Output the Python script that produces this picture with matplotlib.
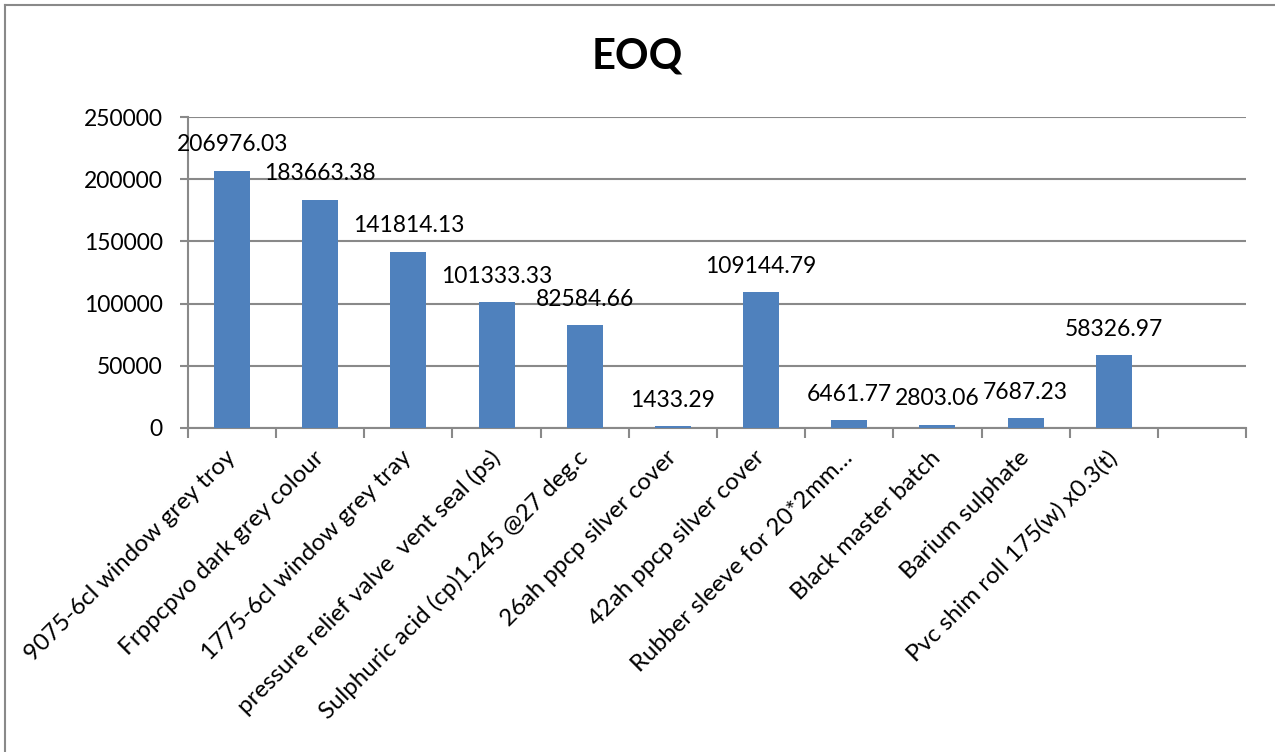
import matplotlib
matplotlib.use('Agg')
import matplotlib.pyplot as plt
from matplotlib.lines import Line2D

plt.rcParams['font.family'] = ['Lato', 'DejaVu Sans']

items = ['9075-6cl window grey troy', 'Frppcpvo dark grey colour',
         '1775-6cl window grey tray', 'pressure relief valve  vent seal (ps)',
         'Sulphuric acid (cp)1.245 @27 deg.c', '26ah ppcp silver cover',
         '42ah ppcp silver cover', 'Rubber sleeve for 20*2mm\u2026',
         'Black master batch', 'Barium sulphate', 'Pvc shim roll 175(w) x0.3(t)']
eoq = [206976.03, 183663.38, 141814.13, 101333.33, 82584.66, 1433.29,
       109144.79, 6461.77, 2803.06, 7687.23, 58326.97]
yticks = [0, 50000, 100000, 150000, 200000, 250000]

grey = '#898989'
fig = plt.figure(figsize=(12.75, 7.52), dpi=100)
ax = fig.add_axes([188 / 1275, 1 - 428 / 752, 1058 / 1275, 311 / 752])

x = list(range(len(items)))
ax.bar(x, eoq, width=0.41, color='#4F81BD', zorder=3)
for xi, v in zip(x, eoq):
    ax.annotate(f'{v:.2f}', (xi, v), xytext=(0, 18.5), textcoords='offset points',
                ha='center', va='center', fontsize=16.5, color='black')

ax.set_xlim(-0.5, 11.5)
ax.set_ylim(0, 250000)
ax.set_yticks(yticks)
ax.set_yticklabels([str(t) for t in yticks], fontsize=16.5)
ax.yaxis.grid(True, color=grey, linewidth=1.5, zorder=0)
ax.tick_params(axis='y', length=6, width=1.5, color=grey, pad=12)

ax.set_xticks(x)
ax.set_xticklabels(items, rotation=45, ha='right', va='center',
                   rotation_mode='anchor', fontsize=17.3)
ax.tick_params(axis='x', length=0, pad=19)
ax.set_xticks([i - 0.5 for i in range(13)], minor=True)
ax.tick_params(axis='x', which='minor', length=7, width=1.5, color=grey)

for s in ['top', 'right']:
    ax.spines[s].set_visible(False)
for s in ['left', 'bottom']:
    ax.spines[s].set_color(grey)
    ax.spines[s].set_linewidth(1.5)

fig.text(637 / 1275, 1 - 57 / 752, 'EOQ', ha='center', va='center',
         fontsize=30, fontweight='bold')

# chart area border (left and top only visible)
fig.add_artist(Line2D([5 / 1275, 5 / 1275], [0, 1 - 5 / 752], color=grey,
                      linewidth=1.5, transform=fig.transFigure))
fig.add_artist(Line2D([5 / 1275, 1], [1 - 5 / 752, 1 - 5 / 752], color=grey,
                      linewidth=1.5, transform=fig.transFigure))

fig.savefig('out.png', dpi=100)
